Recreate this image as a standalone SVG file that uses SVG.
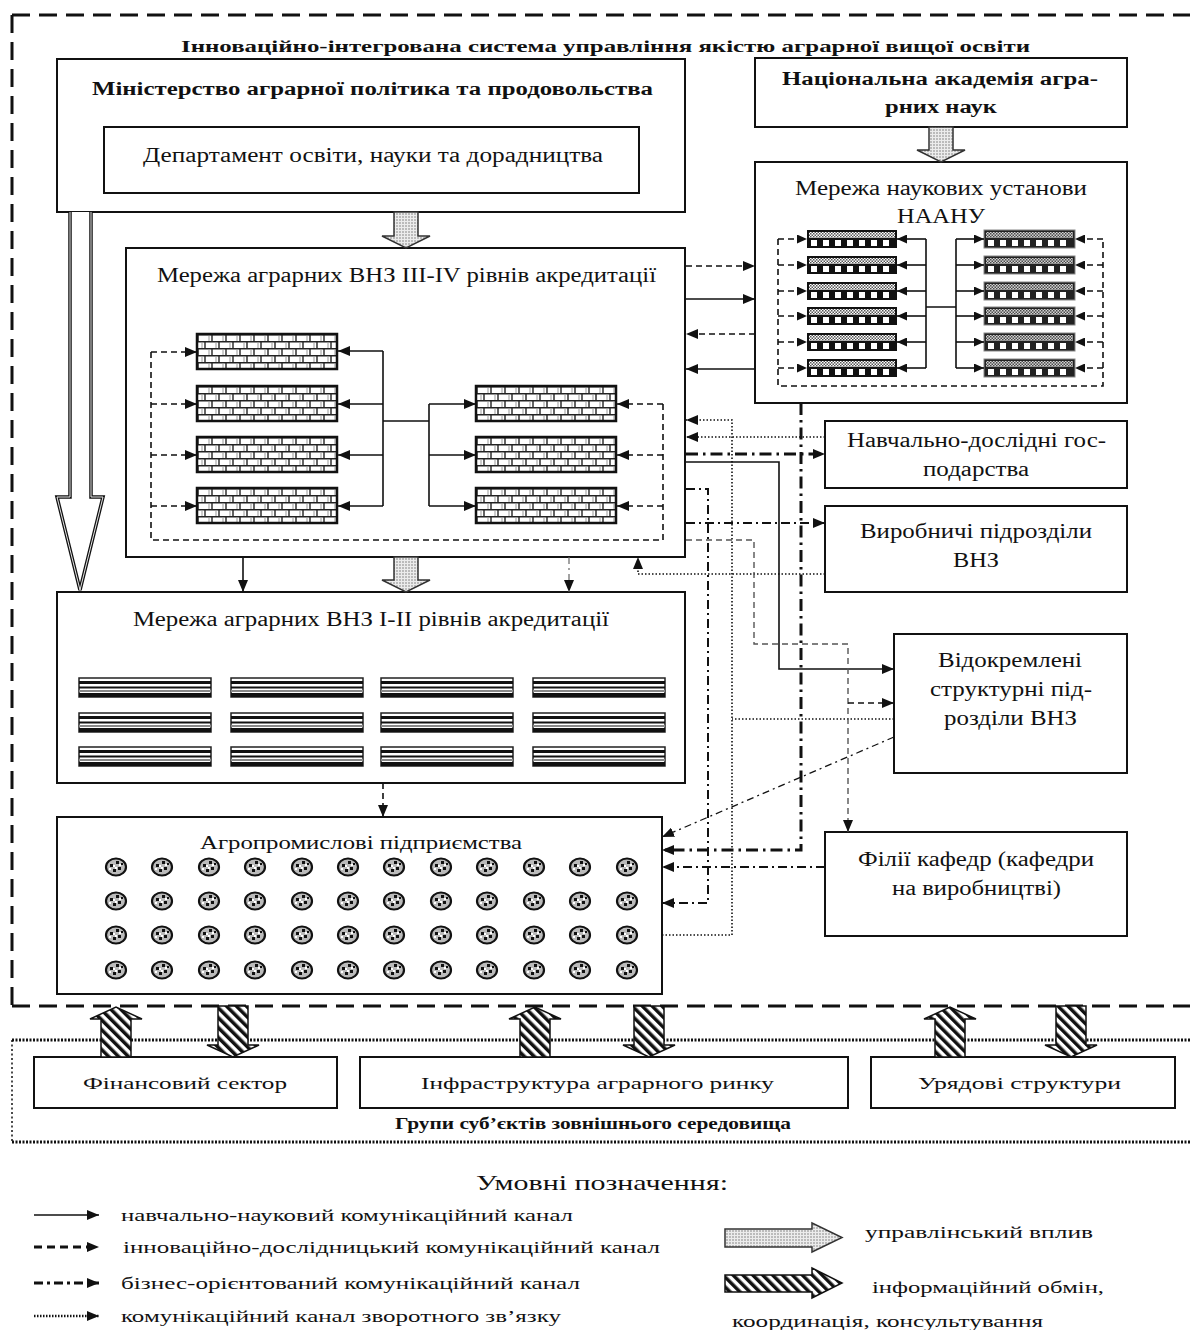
<svg xmlns="http://www.w3.org/2000/svg" xmlns:xlink="http://www.w3.org/1999/xlink" width="1190" height="1330" viewBox="0 0 1190 1330">
<style>
.box{fill:#fff;stroke:#111;stroke-width:2}
.t{font-family:"Liberation Serif","Times New Roman",serif;fill:#111}
.b{font-weight:bold}
.solid,.dash,.dashg,.dot,.dd3,.dd2,.dd1,.dd1g{fill:none;stroke:#111}
.solid{stroke-width:1.6}
.dash{stroke-width:1.6;stroke-dasharray:6 4}
.dashg{stroke:#555;stroke-width:1.4;stroke-dasharray:6 4}
.dot{stroke-width:1.6;stroke-dasharray:1.5 2}
.dd3{stroke-width:3;stroke-dasharray:12 5 2.5 5}
.dd2{stroke-width:2;stroke-dasharray:9 4 2 4}
.dd1{stroke-width:1.3;stroke-dasharray:7 4 2 4}
.dd1g{stroke:#666;stroke-width:1.2;stroke-dasharray:7 4 2 4}
.mgmt{fill:url(#dp);stroke:#333;stroke-width:1.5}
.info{fill:url(#hp);stroke:#111;stroke-width:1.5}
</style>
<defs>
<marker id="ah" viewBox="0 0 12 10" refX="12" refY="5" markerWidth="12" markerHeight="10" markerUnits="userSpaceOnUse" orient="auto"><path d="M0,0L12,5L0,10z" fill="#111"/></marker>
<marker id="ahs" viewBox="0 0 10 9" refX="10" refY="4.5" markerWidth="10" markerHeight="9" markerUnits="userSpaceOnUse" orient="auto"><path d="M0,0L10,4.5L0,9z" fill="#111"/></marker>
<pattern id="bp" width="14" height="14" patternUnits="userSpaceOnUse"><rect width="14" height="14" fill="#fff"/><path d="M0,0.7H14M0,7.7H14M1,0V7M8,7V14" stroke="#222" stroke-width="1.4"/><path d="M12,1V7M5,8V14" stroke="#999" stroke-width="1"/></pattern>
<pattern id="dp" width="3" height="3" patternUnits="userSpaceOnUse"><rect width="3" height="3" fill="#ececec"/><circle cx="1" cy="1" r="0.7" fill="#666"/></pattern>
<pattern id="hp" width="7" height="7" patternUnits="userSpaceOnUse" patternTransform="rotate(-45)"><rect width="7" height="7" fill="#fff"/><rect width="3.5" height="7" fill="#111"/></pattern>
<pattern id="ck" width="3" height="3" patternUnits="userSpaceOnUse"><rect width="3" height="3" fill="#fff"/><rect width="1.5" height="1.5" fill="#555"/><rect x="1.5" y="1.5" width="1.5" height="1.5" fill="#555"/></pattern>
<g id="brick"><rect width="140" height="35" fill="url(#bp)" stroke="#111" stroke-width="2.5"/></g>
<g id="nb"><rect width="90" height="18" fill="#111"/><rect x="2" y="2" width="86" height="6" fill="url(#ck)"/><path d="M4,10h6v6h-6z M16,10h6v6h-6z M28,10h6v6h-6z M40,10h6v6h-6z M52,10h6v6h-6z M64,10h6v6h-6z M76,10h6v6h-6z" fill="#fff"/></g>
<g id="nb2"><rect width="91" height="18" fill="#222" stroke="#888" stroke-width="1"/><rect x="2" y="2" width="87" height="6" fill="url(#ck)" opacity="0.8"/><path d="M4,10h6v6h-6z M16,10h6v6h-6z M28,10h6v6h-6z M40,10h6v6h-6z M52,10h6v6h-6z M64,10h6v6h-6z M76,10h6v6h-6z" fill="#fff"/></g>
<g id="sb"><rect width="132" height="19" fill="#fff" stroke="#222" stroke-width="1.5"/><rect y="3" width="132" height="3" fill="#111"/><rect y="8.5" width="132" height="2" fill="#111"/><rect y="12" width="132" height="2" fill="#888"/><rect y="15" width="132" height="4" fill="#111"/></g>
<g id="ad"><ellipse rx="10" ry="8.5" fill="#bbb" stroke="#111" stroke-width="2.2"/><path d="M-6,-3h3v3h-3z M0,-6h3v3h-3z M2,0h3v3h-3z M-3,2h3v3h-3z M5,-4h2v2h-2z" fill="#111"/><path d="M-3,-2h2v2h-2z M3,-3h2v2h-2z M-1,0h2v2h-2z M-7,1h2v2h-2z" fill="#fff"/></g>
</defs>
<rect width="1190" height="1330" fill="#fff"/>

<g id="frames" fill="none">
<path d="M12,15H1190 M12,15V1006 M12,1006H1190" stroke="#111" stroke-width="3" stroke-dasharray="18 9"/>
<path d="M12,1040H1190 M12,1142H1190" stroke="#111" stroke-width="3" stroke-dasharray="2 1.5"/>
<path d="M12,1040V1142" stroke="#111" stroke-width="1.5" stroke-dasharray="2 2.5"/>
</g>
<text class="t b" x="181" y="52" font-size="16" textLength="849" lengthAdjust="spacingAndGlyphs">Інноваційно-інтегрована система управління якістю аграрної вищої освіти</text>

<g id="ministry">
<rect class="box" x="57" y="59" width="628" height="153"/>
<text class="t b" x="92" y="95" font-size="18" textLength="561" lengthAdjust="spacingAndGlyphs">Міністерство аграрної політика та продовольства</text>
</g>
<g id="department">
<rect class="box" x="104" y="127" width="535" height="66"/>
<text class="t" x="143" y="162" font-size="20" textLength="460" lengthAdjust="spacingAndGlyphs">Департамент освіти, науки та дорадництва</text>
</g>
<g id="naan">
<rect class="box" x="755" y="58" width="372" height="69"/>
<text class="t b" x="782" y="85" font-size="18" textLength="316" lengthAdjust="spacingAndGlyphs">Національна академія агра-</text>
<text class="t b" x="885" y="113" font-size="18" textLength="112" lengthAdjust="spacingAndGlyphs">рних наук</text>
</g>
<g id="naanu-network">
<rect class="box" x="755" y="162" width="372" height="241"/>
<text class="t" x="795" y="195" font-size="20" textLength="292" lengthAdjust="spacingAndGlyphs">Мережа наукових установи</text>
<text class="t" x="897" y="223" font-size="20" textLength="88" lengthAdjust="spacingAndGlyphs">НААНУ</text>
<use href="#nb" x="807" y="230"/><use href="#nb" x="807" y="256"/><use href="#nb" x="807" y="282"/><use href="#nb" x="807" y="307"/><use href="#nb" x="807" y="333"/><use href="#nb" x="807" y="359"/>
<use href="#nb2" x="984" y="230"/><use href="#nb2" x="984" y="256"/><use href="#nb2" x="984" y="282"/><use href="#nb2" x="984" y="307"/><use href="#nb2" x="984" y="333"/><use href="#nb2" x="984" y="359"/>
</g>
<g id="vnz34">
<rect class="box" x="126" y="248" width="559" height="309"/>
<text class="t" x="157" y="282" font-size="20" textLength="499" lengthAdjust="spacingAndGlyphs">Мережа аграрних ВНЗ III-IV рівнів акредитації</text>
<use href="#brick" x="197" y="334"/><use href="#brick" x="197" y="386"/><use href="#brick" x="197" y="437"/><use href="#brick" x="197" y="488"/>
<use href="#brick" x="476" y="386"/><use href="#brick" x="476" y="437"/><use href="#brick" x="476" y="488"/>
</g>
<g id="vnz12">
<rect class="box" x="57" y="592" width="628" height="191"/>
<text class="t" x="133" y="626" font-size="20" textLength="476" lengthAdjust="spacingAndGlyphs">Мережа аграрних ВНЗ І-ІІ рівнів акредитації</text>
<use href="#sb" x="79" y="678"/><use href="#sb" x="231" y="678"/><use href="#sb" x="381" y="678"/><use href="#sb" x="533" y="678"/>
<use href="#sb" x="79" y="713"/><use href="#sb" x="231" y="713"/><use href="#sb" x="381" y="713"/><use href="#sb" x="533" y="713"/>
<use href="#sb" x="79" y="747"/><use href="#sb" x="231" y="747"/><use href="#sb" x="381" y="747"/><use href="#sb" x="533" y="747"/>
</g>
<g id="agro">
<rect class="box" x="57" y="817" width="605" height="177"/>
<text class="t" x="200" y="849" font-size="18" textLength="322" lengthAdjust="spacingAndGlyphs">Агропромислові підприємства</text>
<use href="#ad" x="116" y="867"/><use href="#ad" x="162" y="867"/><use href="#ad" x="209" y="867"/><use href="#ad" x="255" y="867"/><use href="#ad" x="302" y="867"/><use href="#ad" x="348" y="867"/><use href="#ad" x="394" y="867"/><use href="#ad" x="441" y="867"/><use href="#ad" x="487" y="867"/><use href="#ad" x="534" y="867"/><use href="#ad" x="580" y="867"/><use href="#ad" x="627" y="867"/>
<use href="#ad" x="116" y="901"/><use href="#ad" x="162" y="901"/><use href="#ad" x="209" y="901"/><use href="#ad" x="255" y="901"/><use href="#ad" x="302" y="901"/><use href="#ad" x="348" y="901"/><use href="#ad" x="394" y="901"/><use href="#ad" x="441" y="901"/><use href="#ad" x="487" y="901"/><use href="#ad" x="534" y="901"/><use href="#ad" x="580" y="901"/><use href="#ad" x="627" y="901"/>
<use href="#ad" x="116" y="935"/><use href="#ad" x="162" y="935"/><use href="#ad" x="209" y="935"/><use href="#ad" x="255" y="935"/><use href="#ad" x="302" y="935"/><use href="#ad" x="348" y="935"/><use href="#ad" x="394" y="935"/><use href="#ad" x="441" y="935"/><use href="#ad" x="487" y="935"/><use href="#ad" x="534" y="935"/><use href="#ad" x="580" y="935"/><use href="#ad" x="627" y="935"/>
<use href="#ad" x="116" y="970"/><use href="#ad" x="162" y="970"/><use href="#ad" x="209" y="970"/><use href="#ad" x="255" y="970"/><use href="#ad" x="302" y="970"/><use href="#ad" x="348" y="970"/><use href="#ad" x="394" y="970"/><use href="#ad" x="441" y="970"/><use href="#ad" x="487" y="970"/><use href="#ad" x="534" y="970"/><use href="#ad" x="580" y="970"/><use href="#ad" x="627" y="970"/>
</g>
<g id="farms">
<rect class="box" x="825" y="421" width="302" height="67"/>
<text class="t" x="847" y="447" font-size="20" textLength="259" lengthAdjust="spacingAndGlyphs">Навчально-дослідні гос-</text>
<text class="t" x="923" y="476" font-size="20" textLength="106" lengthAdjust="spacingAndGlyphs">подарства</text>
</g>
<g id="production">
<rect class="box" x="825" y="506" width="302" height="86"/>
<text class="t" x="860" y="538" font-size="20" textLength="232" lengthAdjust="spacingAndGlyphs">Виробничі підрозділи</text>
<text class="t" x="953" y="567" font-size="20" textLength="46" lengthAdjust="spacingAndGlyphs">ВНЗ</text>
</g>
<g id="separate">
<rect class="box" x="894" y="634" width="233" height="139"/>
<text class="t" x="938" y="667" font-size="20" textLength="144" lengthAdjust="spacingAndGlyphs">Відокремлені</text>
<text class="t" x="930" y="696" font-size="20" textLength="162" lengthAdjust="spacingAndGlyphs">структурні під-</text>
<text class="t" x="944" y="725" font-size="20" textLength="133" lengthAdjust="spacingAndGlyphs">розділи ВНЗ</text>
</g>
<g id="branches">
<rect class="box" x="825" y="832" width="302" height="104"/>
<text class="t" x="858" y="866" font-size="20" textLength="236" lengthAdjust="spacingAndGlyphs">Філії кафедр (кафедри</text>
<text class="t" x="892" y="895" font-size="20" textLength="169" lengthAdjust="spacingAndGlyphs">на виробництві)</text>
</g>
<g id="finance">
<rect class="box" x="34" y="1057" width="303" height="51"/>
<text class="t" x="83" y="1089" font-size="17" textLength="204" lengthAdjust="spacingAndGlyphs">Фінансовий сектор</text>
</g>
<g id="infrastructure">
<rect class="box" x="360" y="1057" width="488" height="51"/>
<text class="t" x="421" y="1089" font-size="17" textLength="353" lengthAdjust="spacingAndGlyphs">Інфраструктура аграрного ринку</text>
</g>
<g id="government">
<rect class="box" x="871" y="1057" width="304" height="51"/>
<text class="t" x="918" y="1089" font-size="17" textLength="203" lengthAdjust="spacingAndGlyphs">Урядові структури</text>
</g>
<text class="t b" x="395" y="1129" font-size="16" textLength="396" lengthAdjust="spacingAndGlyphs">Групи суб’єктів зовнішнього середовища</text>

<g id="connectors">
<!-- management influence arrows -->
<path class="mgmt" d="M394,212V236H382L406,248L430,236H418V212Z"/>
<path class="mgmt" d="M929,127V150H917L941,162L965,150H953V127Z"/>
<path class="mgmt" d="M394,557V580H382L406,592L430,580H418V557Z"/>
<path d="M70,212V497H57L80,590L103,497H91V212" fill="#fff" stroke="#111" stroke-width="3.5"/>
<path d="M70,212V497H57L80,590L103,497H91V212" fill="none" stroke="#fff" stroke-width="0.9"/>
<!-- info exchange arrows -->
<path class="info" d="M101,1057V1019H90L116,1007L142,1019H131V1057Z"/>
<path class="info" d="M218,1006V1045H207L233,1057L259,1045H248V1006Z"/>
<path class="info" d="M520,1057V1019H509L535,1007L561,1019H550V1057Z"/>
<path class="info" d="M634,1006V1045H623L649,1057L675,1045H664V1006Z"/>
<path class="info" d="M935,1057V1019H924L950,1007L976,1019H965V1057Z"/>
<path class="info" d="M1056,1006V1045H1045L1071,1057L1097,1045H1086V1006Z"/>
<!-- inside VNZ III-IV -->
<path class="solid" d="M383,351V506 M383,421H429 M429,404V506"/>
<path class="solid" d="M383,351H338" marker-end="url(#ah)"/>
<path class="solid" d="M383,404H338" marker-end="url(#ah)"/>
<path class="solid" d="M383,455H338" marker-end="url(#ah)"/>
<path class="solid" d="M383,506H338" marker-end="url(#ah)"/>
<path class="solid" d="M429,404H476" marker-end="url(#ah)"/>
<path class="solid" d="M429,455H476" marker-end="url(#ah)"/>
<path class="solid" d="M429,506H476" marker-end="url(#ah)"/>
<path class="dash" d="M151,352V540H663V404"/>
<path class="dash" d="M151,352H197" marker-end="url(#ah)"/>
<path class="dash" d="M151,404H197" marker-end="url(#ah)"/>
<path class="dash" d="M151,455H197" marker-end="url(#ah)"/>
<path class="dash" d="M151,506H197" marker-end="url(#ah)"/>
<path class="dash" d="M663,404H617" marker-end="url(#ah)"/>
<path class="dash" d="M663,455H617" marker-end="url(#ah)"/>
<path class="dash" d="M663,506H617" marker-end="url(#ah)"/>
<!-- inside NAANU network -->
<path class="solid" d="M926,239V368 M926,307H956 M956,239V368"/>
<path class="dash" d="M778,239V386H1103V239"/>
<path class="solid" d="M926,239H897" marker-end="url(#ahs)"/>
<path class="solid" d="M926,265H897" marker-end="url(#ahs)"/>
<path class="solid" d="M926,291H897" marker-end="url(#ahs)"/>
<path class="solid" d="M926,316H897" marker-end="url(#ahs)"/>
<path class="solid" d="M926,342H897" marker-end="url(#ahs)"/>
<path class="solid" d="M926,368H897" marker-end="url(#ahs)"/>
<path class="solid" d="M956,239H984" marker-end="url(#ahs)"/>
<path class="solid" d="M956,265H984" marker-end="url(#ahs)"/>
<path class="solid" d="M956,291H984" marker-end="url(#ahs)"/>
<path class="solid" d="M956,316H984" marker-end="url(#ahs)"/>
<path class="solid" d="M956,342H984" marker-end="url(#ahs)"/>
<path class="solid" d="M956,368H984" marker-end="url(#ahs)"/>
<path class="dash" d="M778,239H807" marker-end="url(#ahs)"/>
<path class="dash" d="M778,265H807" marker-end="url(#ahs)"/>
<path class="dash" d="M778,291H807" marker-end="url(#ahs)"/>
<path class="dash" d="M778,316H807" marker-end="url(#ahs)"/>
<path class="dash" d="M778,342H807" marker-end="url(#ahs)"/>
<path class="dash" d="M778,368H807" marker-end="url(#ahs)"/>
<path class="dash" d="M1103,239H1075" marker-end="url(#ahs)"/>
<path class="dash" d="M1103,265H1075" marker-end="url(#ahs)"/>
<path class="dash" d="M1103,291H1075" marker-end="url(#ahs)"/>
<path class="dash" d="M1103,316H1075" marker-end="url(#ahs)"/>
<path class="dash" d="M1103,342H1075" marker-end="url(#ahs)"/>
<path class="dash" d="M1103,368H1075" marker-end="url(#ahs)"/>
<!-- between nodes -->
<path class="dash" d="M686,266H755" marker-end="url(#ah)"/>
<path class="solid" d="M686,299H755" marker-end="url(#ah)"/>
<path class="dash" d="M755,334H686" marker-end="url(#ah)"/>
<path class="solid" d="M755,369H686" marker-end="url(#ah)"/>
<path class="dot" d="M662,935H732V420H686" marker-end="url(#ah)"/>
<path class="dot" d="M825,437H686" marker-end="url(#ah)"/>
<path class="dot" d="M894,719H732"/>
<path class="dot" d="M825,574H638V557" marker-end="url(#ah)"/>
<path class="dd3" d="M686,454H825" marker-end="url(#ah)"/>
<path class="solid" d="M686,462H779V669H894" marker-end="url(#ah)"/>
<path class="dd3" d="M801,403V850H662" marker-end="url(#ah)"/>
<path class="dd2" d="M686,489H708V903H662" marker-end="url(#ah)"/>
<path class="dd2" d="M686,523H825" marker-end="url(#ah)"/>
<path class="dashg" d="M686,540H754V644H848V832" marker-end="url(#ah)"/>
<path class="dash" d="M848,703H894" marker-end="url(#ah)"/>
<path class="dd1" d="M894,737L662,837" marker-end="url(#ah)"/>
<path class="dd2" d="M825,867H662" marker-end="url(#ah)"/>
<path class="solid" d="M243,557V592" marker-end="url(#ah)"/>
<path class="dd1g" d="M569,557V592" marker-end="url(#ah)"/>
<path class="dash" d="M383,783V817" stroke-dasharray="8 14" marker-end="url(#ah)"/>
</g>

<g id="legend">
<text class="t" x="476" y="1190" font-size="22" textLength="252" lengthAdjust="spacingAndGlyphs">Умовні позначення:</text>
<path d="M34,1215H99" fill="none" stroke="#111" stroke-width="1.6" marker-end="url(#ah)"/>
<path d="M34,1247H99" fill="none" stroke="#111" stroke-width="3" stroke-dasharray="8 5" marker-end="url(#ah)"/>
<path d="M34,1283H99" fill="none" stroke="#111" stroke-width="3" stroke-dasharray="9 4 3 4" marker-end="url(#ah)"/>
<path d="M34,1316H99" fill="none" stroke="#111" stroke-width="2.5" stroke-dasharray="1.5 1.5" marker-end="url(#ah)"/>
<text class="t" x="121" y="1221" font-size="16" textLength="452" lengthAdjust="spacingAndGlyphs">навчально-науковий комунікаційний канал</text>
<text class="t" x="123" y="1253" font-size="16" textLength="537" lengthAdjust="spacingAndGlyphs">інноваційно-дослідницький комунікаційний канал</text>
<text class="t" x="121" y="1289" font-size="16" textLength="459" lengthAdjust="spacingAndGlyphs">бізнес-орієнтований комунікаційний канал</text>
<text class="t" x="121" y="1322" font-size="16" textLength="440" lengthAdjust="spacingAndGlyphs">комунікаційний канал зворотного зв’язку</text>
<path class="mgmt" d="M725,1229H812V1223L842,1237.5L812,1252V1247H725Z"/>
<path class="info" d="M725,1275H812V1268L842,1283L812,1298V1292H725Z"/>
<text class="t" x="865" y="1238" font-size="16" textLength="228" lengthAdjust="spacingAndGlyphs">управлінський вплив</text>
<text class="t" x="872" y="1293" font-size="16" textLength="232" lengthAdjust="spacingAndGlyphs">інформаційний обмін,</text>
<text class="t" x="732" y="1327" font-size="16" textLength="311" lengthAdjust="spacingAndGlyphs">координація, консультування</text>
</g>
</svg>
